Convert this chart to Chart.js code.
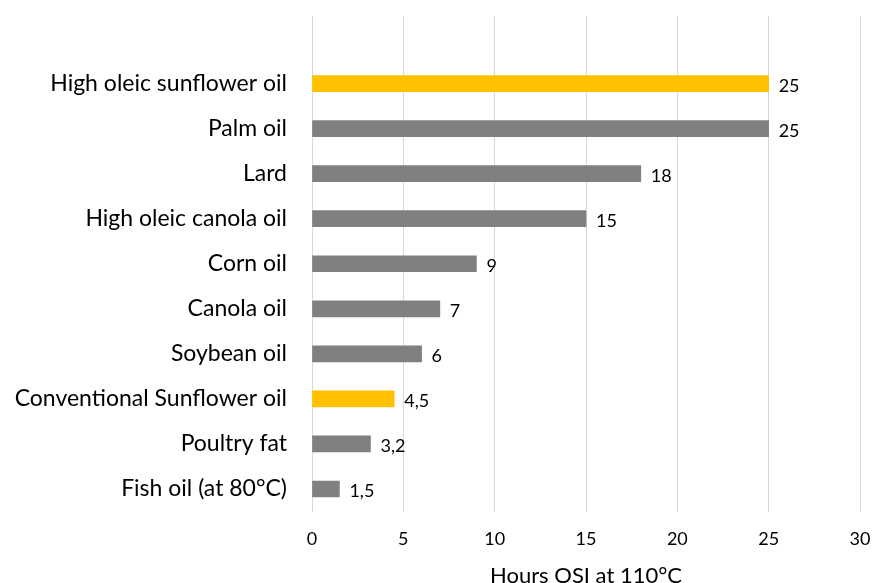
<!DOCTYPE html>
<html>
<head>
<meta charset="utf-8">
<script src="https://cdn.jsdelivr.net/npm/chart.js@4/dist/chart.umd.min.js"></script>
<style>
html,body{margin:0;padding:0;background:#fff;}
#wrap{width:873px;height:583px;position:relative;}
</style>
</head>
<body>
<div id="wrap"><canvas id="c" width="873" height="583"></canvas></div>
<script>
const categories = ["", "High oleic sunflower oil", "Palm oil", "Lard", "High oleic canola oil", "Corn oil", "Canola oil", "Soybean oil", "Conventional Sunflower oil", "Poultry fat", "Fish oil (at 80°C)"];
const hours = [null, 25, 25, 18, 15, 9, 7, 6, 4.5, 3.2, 1.5];
const highlighted = [false, true, false, false, false, false, false, false, true, false, false];
const xTicks = [0, 5, 10, 15, 20, 25, 30];
const axisTitle = "Hours OSI at 110°C";

const FONT = "Lato, 'Open Sans', sans-serif";

const labelPlugin = {
  id: 'valueLabels',
  afterDatasetsDraw(chart) {
    const ctx = chart.ctx;
    const meta = chart.getDatasetMeta(0);
    ctx.save();
    ctx.font = "18px " + FONT;
    ctx.fillStyle = "#000";
    ctx.textBaseline = "middle";
    ctx.textAlign = "left";
    meta.data.forEach((bar, i) => {
      const v = hours[i];
      if (v === null) return;
      ctx.fillText(String(v).replace('.', ','), bar.x + 10, bar.y + 2.5);
    });
    ctx.restore();
  }
};

new Chart(document.getElementById('c'), {
  type: 'bar',
  data: {
    labels: categories,
    datasets: [{
      data: hours,
      backgroundColor: highlighted.map(h => h ? '#FFC000' : '#808080'),
      barThickness: 16,
      borderWidth: 0
    }]
  },
  options: {
    indexAxis: 'y',
    responsive: false,
    animation: false,
    devicePixelRatio: 1,
    layout: { padding: { top: 16, right: 13, left: 0, bottom: 0 } },
    plugins: { legend: { display: false }, tooltip: { enabled: false } },
    scales: {
      x: {
        min: 0, max: 30,
        afterBuildTicks(scale) { scale.ticks = xTicks.map(v => ({ value: v })); },
        afterFit(scale) { scale.height = 71.5; scale.paddingLeft = 0; scale.paddingRight = 0; },
        grid: { color: '#D9D9D9', lineWidth: 1, drawTicks: false },
        border: { display: false },
        ticks: { color: '#000', font: { family: FONT, size: 18 }, padding: 16.5 },
        title: { display: true, text: axisTitle, color: '#000', font: { family: FONT, size: 22 }, padding: { top: 0, bottom: -6 } }
      },
      y: {
        afterFit(scale) { scale.width = 312; scale.paddingTop = 0; scale.paddingBottom = 0; },
        grid: { display: false, drawTicks: false },
        border: { display: false },
        ticks: { color: '#000', font: { family: FONT, size: 23 }, padding: 25, autoSkip: false }
      }
    }
  },
  plugins: [labelPlugin]
});
</script>
</body>
</html>
